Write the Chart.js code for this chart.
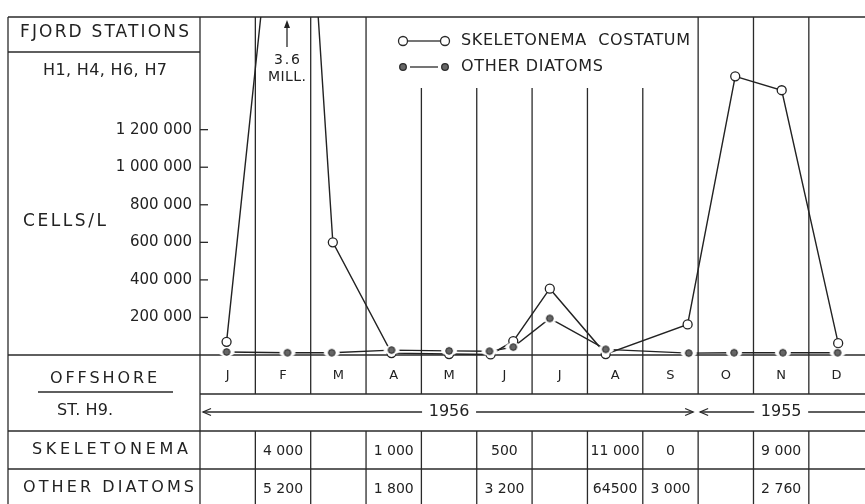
<!DOCTYPE html>
<html>
<head>
<meta charset="utf-8">
<script src="https://cdn.jsdelivr.net/npm/chart.js@4.4.1/dist/chart.umd.min.js"></script>
<style>
  html, body { margin: 0; padding: 0; background: #fff; }
</style>
</head>
<body>
<canvas id="chart" width="865" height="504"></canvas>
<script>
const months = ["J", "F", "M", "A", "M", "J", "J", "A", "S", "O", "N", "D"];

// x is the sampling date in month units (0 = start of the J column)
const skelX = [0.48, 1.74, 2.40, 3.46, 4.50, 5.25, 5.66, 6.32, 7.33, 8.81, 9.67, 10.51, 11.53];
const skelY = [70000, 3600000, 600000, 10000, 5000, 3000, 74000, 353000, 5000, 163000, 1484000, 1410000, 63000];
const otherX = [0.48, 1.58, 2.38, 3.46, 4.50, 5.23, 5.66, 6.32, 7.33, 8.83, 9.65, 10.53, 11.52];
const otherY = [16000, 12000, 12000, 26000, 22000, 20000, 42000, 195000, 30000, 10000, 12000, 12000, 12000];

const yTicks = [200000, 400000, 600000, 800000, 1000000, 1200000];

// offshore station H9, one cell per month
const offshoreSkel = [null, "4 000", null, "1 000", null, "500", null, "11 000", "0", null, "9 000", null];
const offshoreOther = [null, "5 200", null, "1 800", null, "3 200", null, "64500", "3 000", null, "2 760", null];

const FONT = "'DejaVu Sans'";
const INK = "#222";

function toPoints(xs, ys) {
  return xs.map((x, i) => ({ x: x, y: ys[i] }));
}

function fmt(v) {
  return String(v).replace(/\B(?=(\d{3})+(?!\d))/g, " ");
}

// filled dot with a white halo so the connecting line stops short of it
function dotImage() {
  const c = document.createElement("canvas");
  c.width = 18;
  c.height = 12;
  const g = c.getContext("2d");
  g.fillStyle = "#fff";
  g.beginPath();
  g.ellipse(9, 6, 8, 4.5, 0, 0, Math.PI * 2);
  g.fill();
  g.fillStyle = "#666";
  g.strokeStyle = INK;
  g.lineWidth = 1;
  g.beginPath();
  g.arc(9, 6, 3.3, 0, Math.PI * 2);
  g.fill();
  g.stroke();
  return c;
}

// draw text stretched between x0 and x1
function fitText(ctx, str, x0, x1, cy, size) {
  ctx.font = size + "px " + FONT;
  ctx.letterSpacing = "0px";
  const w = ctx.measureText(str).width;
  const gap = str.length > 1 ? (x1 - x0 - w) / (str.length - 1) : 0;
  ctx.letterSpacing = gap + "px";
  ctx.textAlign = "left";
  ctx.textBaseline = "middle";
  ctx.fillText(str, x0, cy);
  ctx.letterSpacing = "0px";
}

function centerText(ctx, str, cx, cy, size) {
  ctx.font = size + "px " + FONT;
  ctx.letterSpacing = "0px";
  ctx.textAlign = "center";
  ctx.textBaseline = "middle";
  ctx.fillText(str, cx, cy);
}

function line(ctx, x0, y0, x1, y1) {
  ctx.beginPath();
  ctx.moveTo(x0, y0);
  ctx.lineTo(x1, y1);
  ctx.stroke();
}

function arrowHead(ctx, x, y, dir) {
  ctx.beginPath();
  ctx.moveTo(x - dir * 8, y - 3.5);
  ctx.lineTo(x, y);
  ctx.lineTo(x - dir * 8, y + 3.5);
  ctx.stroke();
}

const figurePlugin = {
  id: "figure",
  beforeDatasetsDraw(chart) {
    const ctx = chart.ctx;
    const xs = chart.scales.x;
    const ys = chart.scales.y;
    const area = chart.chartArea;
    const L = 8, W = chart.width, H = chart.height;
    const base = area.bottom;
    const rowMonth = 394, rowYear = 431, rowOther = 469;

    ctx.save();
    ctx.strokeStyle = "#2a2a2a";
    ctx.lineWidth = 1.3;

    // frame and table rules
    line(ctx, L, area.top, W, area.top);
    line(ctx, L, area.top, L, H);
    line(ctx, area.left, area.top, area.left, H);
    line(ctx, L, 52, area.left, 52);
    line(ctx, L, base, W, base);
    line(ctx, area.left, rowMonth, W, rowMonth);
    line(ctx, L, rowYear, W, rowYear);
    line(ctx, L, rowOther, W, rowOther);

    for (let i = 1; i < 12; i++) {
      const px = xs.getPixelForValue(i);
      const top = (i >= 4 && i <= 8) ? 88 : area.top;
      line(ctx, px, top, px, base);
      line(ctx, px, base, px, rowMonth);
      line(ctx, px, rowYear, px, H);
    }

    // y tick marks point into the plot
    yTicks.forEach((v) => {
      const py = ys.getPixelForValue(v);
      line(ctx, area.left, py, area.left + 8, py);
    });

    ctx.fillStyle = INK;

    // left column labels
    fitText(ctx, "FJORD STATIONS", 20, 189, 33, 17);
    fitText(ctx, "H1, H4, H6, H7", 43, 167, 71, 16);
    fitText(ctx, "CELLS/L", 23, 106, 222, 17);
    fitText(ctx, "OFFSHORE", 50, 157, 379, 16);
    line(ctx, 38, 392, 173, 392);
    fitText(ctx, "ST. H9.", 57, 113, 411, 16);
    fitText(ctx, "SKELETONEMA", 32, 188, 450, 16);
    fitText(ctx, "OTHER DIATOMS", 23, 194, 488, 16);

    // year row with arrows
    const yY = 412;
    const c56 = (xs.getPixelForValue(0) + xs.getPixelForValue(9)) / 2;
    const c55 = (xs.getPixelForValue(9) + xs.getPixelForValue(12)) / 2;
    centerText(ctx, "1956", c56, yY, 16);
    centerText(ctx, "1955", c55, yY, 16);
    const l56 = xs.getPixelForValue(0) + 3, r56 = xs.getPixelForValue(9) - 5;
    line(ctx, l56, yY, c56 - 27, yY);
    line(ctx, c56 + 27, yY, r56, yY);
    arrowHead(ctx, l56, yY, -1);
    arrowHead(ctx, r56, yY, 1);
    const l55 = xs.getPixelForValue(9) + 2;
    line(ctx, l55, yY, c55 - 27, yY);
    line(ctx, c55 + 27, yY, W, yY);
    arrowHead(ctx, l55, yY, -1);

    // offshore values
    for (let i = 0; i < 12; i++) {
      const cx = xs.getPixelForValue(i + 0.5);
      if (offshoreSkel[i] !== null) centerText(ctx, offshoreSkel[i], cx, 451, 14);
      if (offshoreOther[i] !== null) centerText(ctx, offshoreOther[i], cx, 489, 14);
    }

    // 3.6 mill note for the February peak
    line(ctx, 287, 24, 287, 47);
    ctx.beginPath();
    ctx.moveTo(287, 20);
    ctx.lineTo(284, 28);
    ctx.lineTo(290, 28);
    ctx.closePath();
    ctx.fill();
    fitText(ctx, "3.6", 274, 300, 60, 14);
    fitText(ctx, "MILL.", 268, 306, 77, 14);

    // legend
    ctx.lineWidth = 1.3;
    line(ctx, 408, 41, 440, 41);
    [403, 445].forEach((x) => {
      ctx.beginPath();
      ctx.arc(x, 41, 4.5, 0, Math.PI * 2);
      ctx.fillStyle = "#fff";
      ctx.fill();
      ctx.stroke();
    });
    line(ctx, 410, 67, 438, 67);
    ctx.fillStyle = "#666";
    [403, 445].forEach((x) => {
      ctx.beginPath();
      ctx.arc(x, 67, 3.3, 0, Math.PI * 2);
      ctx.fill();
      ctx.stroke();
    });
    ctx.fillStyle = INK;
    fitText(ctx, "SKELETONEMA  COSTATUM", 461, 690, 41, 16);
    fitText(ctx, "OTHER DIATOMS", 461, 603, 67, 16);

    ctx.restore();
  }
};

const clipTop = { left: false, top: 0, right: false, bottom: false };

new Chart(document.getElementById("chart"), {
  type: "line",
  data: {
    datasets: [
      {
        label: "Other diatoms",
        data: toPoints(otherX, otherY),
        order: 0,
        borderColor: INK,
        borderWidth: 1.3,
        pointStyle: dotImage(),
        pointRadius: 4,
        tension: 0,
        clip: clipTop
      },
      {
        label: "Skeletonema costatum",
        data: toPoints(skelX, skelY),
        order: 1,
        borderColor: INK,
        borderWidth: 1.4,
        pointStyle: "circle",
        pointRadius: 4.5,
        pointBackgroundColor: "#fff",
        pointBorderColor: INK,
        pointBorderWidth: 1.3,
        tension: 0,
        clip: clipTop
      }
    ]
  },
  options: {
    responsive: false,
    animation: false,
    devicePixelRatio: 1,
    layout: { padding: { left: 8, top: 13, right: 0, bottom: 109 } },
    plugins: {
      legend: { display: false },
      tooltip: { enabled: false }
    },
    scales: {
      x: {
        type: "linear",
        min: 0,
        max: 11.91,
        afterBuildTicks: (s) => { s.ticks = months.map((m, i) => ({ value: i + 0.5 })); },
        afterFit: (s) => { s.height = 40; },
        ticks: {
          autoSkip: false,
          maxRotation: 0,
          padding: 13,
          color: INK,
          font: { family: FONT, size: 13 },
          callback: (v) => months[Math.floor(v)]
        },
        grid: { display: false, drawTicks: false },
        border: { display: false }
      },
      y: {
        min: 0,
        max: 1800000,
        afterBuildTicks: (s) => { s.ticks = yTicks.map((v) => ({ value: v })); },
        afterFit: (s) => { s.width = 192; },
        ticks: {
          padding: 8,
          color: INK,
          font: { family: FONT, size: 15 },
          callback: (v) => fmt(v)
        },
        grid: { display: false, drawTicks: false },
        border: { display: false }
      }
    }
  },
  plugins: [figurePlugin]
});
</script>
</body>
</html>
